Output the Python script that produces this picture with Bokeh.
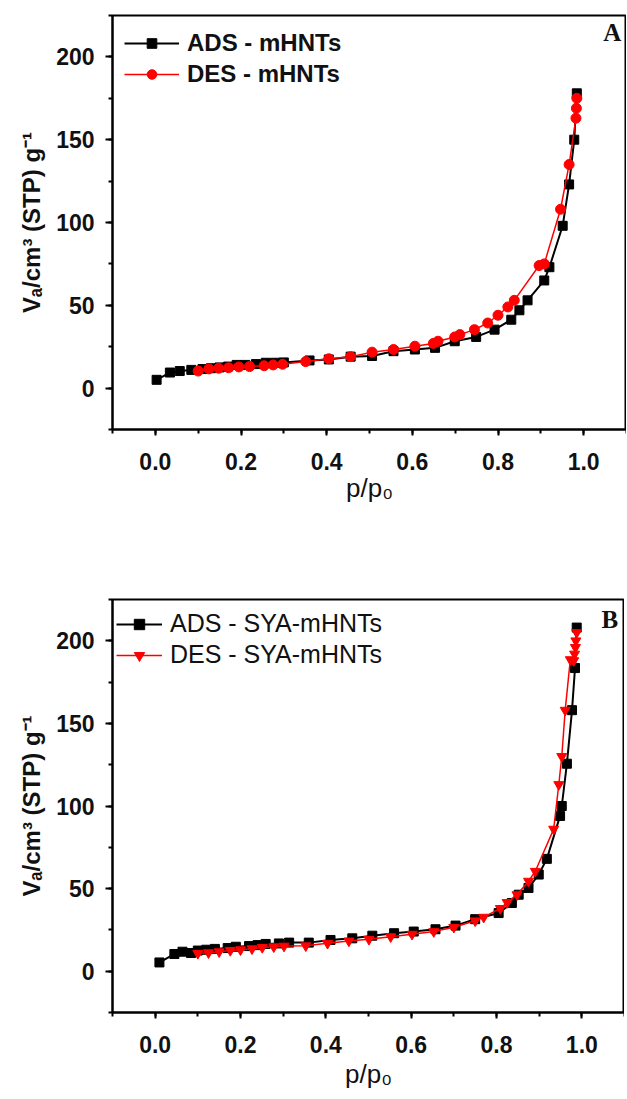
from bokeh.plotting import figure
from bokeh.layouts import column
from bokeh.models import Range1d, SingleIntervalTicker, Legend, LegendItem, Label, PrintfTickFormatter
from bokeh.embed import file_html
from bokeh.resources import INLINE

# ---------------- Panel A data ----------------
a_ads_p = [0.003, 0.034, 0.057, 0.084, 0.11, 0.13, 0.15, 0.17, 0.19, 0.21, 0.235, 0.258, 0.28, 0.30,
           0.36, 0.405, 0.456, 0.506, 0.556, 0.606, 0.653, 0.699, 0.749, 0.792, 0.831, 0.85, 0.869,
           0.908, 0.92, 0.951, 0.966, 0.978, 0.984]
a_ads_v = [5, 9.4, 10.3, 11, 11.5, 12, 12.5, 13, 14, 14, 14.5, 15.3, 15.3, 15.5,
           16.7, 17.3, 19, 19.4, 22.3, 23.3, 24.3, 28.3, 30.9, 35.3, 41.3, 47, 53,
           65, 73, 98, 123, 150, 178]
a_des_p = [0.984, 0.983, 0.982, 0.966, 0.946, 0.908, 0.896, 0.838, 0.823, 0.80, 0.776, 0.745, 0.711,
           0.699, 0.66, 0.649, 0.606, 0.556, 0.506, 0.456, 0.405, 0.351, 0.297, 0.275, 0.254,
           0.22, 0.195, 0.171, 0.148, 0.125, 0.10]
a_des_v = [175, 169, 163, 135, 108, 75, 74, 53, 49, 44, 39.3, 35.3, 32.3,
           30.9, 28.3, 27, 25.3, 23.3, 21.7, 19, 17.7, 16, 14.4, 14, 13.5,
           13, 12.8, 12.3, 12, 11.6, 10.3]

# ---------------- Panel B data ----------------
b_ads_p = [0.01, 0.045, 0.064, 0.084, 0.10, 0.12, 0.14, 0.17, 0.189, 0.22, 0.24, 0.259, 0.29, 0.314,
           0.36, 0.411, 0.462, 0.509, 0.56, 0.606, 0.657, 0.704, 0.75, 0.805, 0.836, 0.852,
           0.875, 0.899, 0.918, 0.949, 0.953, 0.965, 0.977, 0.984, 0.988]
b_ads_v = [5.3, 10.4, 11.8, 11, 12.5, 13, 13.5, 14, 14.8, 15.2, 15.8, 16.5, 16.8, 17.3,
           17.3, 18.9, 19.9, 21.5, 23, 24, 25.4, 27.6, 31.5, 35.2, 41.3, 46.3,
           50.4, 58.5, 68, 94, 100, 125.6, 158, 183.5, 208]
b_des_p = [0.988, 0.986, 0.985, 0.983, 0.981, 0.973, 0.961, 0.953, 0.946, 0.934, 0.891, 0.875,
           0.848, 0.825, 0.809, 0.77, 0.75, 0.70, 0.653, 0.602, 0.552, 0.501, 0.454, 0.404,
           0.353, 0.302, 0.278, 0.251, 0.227, 0.20, 0.176, 0.15, 0.125, 0.10]
b_des_v = [205, 200, 196, 192, 188, 188.6, 158, 130, 113, 86, 60.5, 54.5,
           46.3, 41.6, 38, 32.7, 30.5, 26.6, 24, 22.4, 20.9, 19.3, 18.3, 16.9,
           15.4, 15.2, 14.8, 14.4, 13.6, 13, 12.6, 11.8, 11.2, 10.8]

x_ticks_interval = 0.2
y_ticks_interval = 50

FONT = "Liberation Sans"


def make_panel(ads_p, ads_v, des_p, des_v, labels, letter, width, height,
               mb_left, mb_right, mb_top, mb_bottom, red_marker,
               leg_font, leg_style, glyph_w, glyph_h, leg_spacing, leg_loc,
               letter_x, letter_y, xlabel_standoff):
    p = figure(width=width, height=height, output_backend="svg", toolbar_location=None,
               x_range=Range1d(-0.1, 1.1), y_range=Range1d(-25, 225),
               min_border_left=mb_left, min_border_right=mb_right,
               min_border_top=mb_top, min_border_bottom=mb_bottom)
    p.xgrid.visible = False
    p.ygrid.visible = False
    p.outline_line_color = "black"
    p.outline_line_width = 2
    p.background_fill_color = "white"
    p.border_fill_color = "white"

    p.xaxis.ticker = SingleIntervalTicker(interval=x_ticks_interval, num_minor_ticks=2)
    p.yaxis.ticker = SingleIntervalTicker(interval=y_ticks_interval, num_minor_ticks=2)
    p.xaxis.formatter = PrintfTickFormatter(format="%.1f")
    for ax in (p.xaxis[0], p.yaxis[0]):
        ax.axis_line_width = 2
        ax.axis_line_color = "black"
        ax.major_tick_line_width = 2
        ax.minor_tick_line_width = 2
        ax.major_tick_in = 0
        ax.minor_tick_in = 0
        ax.major_label_text_font = FONT
        ax.major_label_text_font_style = "bold"
        ax.major_label_text_font_size = "23px"
        ax.major_label_text_color = "#111111"
        ax.axis_label_text_font = FONT
        ax.axis_label_text_color = "#111111"
    p.xaxis.major_tick_out = 6
    p.xaxis.minor_tick_out = 4
    p.yaxis.major_tick_out = 7
    p.yaxis.minor_tick_out = 4
    p.xaxis.major_label_standoff = 17
    p.yaxis.major_label_standoff = 11
    p.xaxis.axis_label = "p/p\u2080"
    p.xaxis.axis_label_text_font_style = "normal"
    p.xaxis.axis_label_text_font_size = "26px"
    p.xaxis.axis_label_standoff = xlabel_standoff
    p.yaxis.axis_label = "V\u2090/cm\u00b3 (STP) g\u207b\u00b9"
    p.yaxis.axis_label_text_font_style = "bold"
    p.yaxis.axis_label_text_font_size = "24px"
    p.yaxis.axis_label_standoff = 8

    l1 = p.line(ads_p, ads_v, line_color="black", line_width=2)
    s1 = p.scatter(ads_p, ads_v, marker="square", size=9, fill_color="black", line_color="black")
    l2 = p.line(des_p, des_v, line_color="red", line_width=1.5)
    s2 = p.scatter(des_p, des_v, marker=red_marker, size=10, fill_color="red", line_color="red")

    legend = Legend(items=[LegendItem(label=labels[0], renderers=[l1, s1]),
                           LegendItem(label=labels[1], renderers=[l2, s2])],
                    location=leg_loc)
    legend.border_line_color = None
    legend.background_fill_alpha = 0
    legend.label_text_font = FONT
    legend.label_text_font_size = leg_font
    legend.label_text_font_style = leg_style
    legend.label_text_color = "#111111"
    legend.glyph_width = glyph_w
    legend.glyph_height = glyph_h
    legend.label_height = glyph_h
    legend.spacing = leg_spacing
    legend.padding = 0
    legend.margin = 0
    legend.label_standoff = 8
    p.add_layout(legend)

    p.add_layout(Label(x=letter_x, y=letter_y, text=letter, text_font="Liberation Serif",
                       text_font_style="bold", text_font_size="25px", text_align="right",
                       text_baseline="top", text_color="#111111"))
    return p


pA = make_panel(a_ads_p, a_ads_v, a_des_p, a_des_v, ["ADS - mHNTs", "DES - mHNTs"], "A",
                width=626, height=560, mb_left=109, mb_right=0, mb_top=15, mb_bottom=131,
                red_marker="circle", leg_font="24px", leg_style="bold",
                glyph_w=55, glyph_h=24, leg_spacing=3, leg_loc=(12, 341),
                letter_x=1.088, letter_y=223, xlabel_standoff=0)

pB = make_panel(b_ads_p, b_ads_v, b_des_p, b_des_v, ["ADS - SYA-mHNTs", "DES - SYA-mHNTs"], "B",
                width=624, height=539, mb_left=112, mb_right=0, mb_top=39, mb_bottom=87,
                red_marker="inverted_triangle", leg_font="25px", leg_style="normal",
                glyph_w=46, glyph_h=26, leg_spacing=2, leg_loc=(4, 343),
                letter_x=1.085, letter_y=221.3, xlabel_standoff=3)

layout = column(pA, pB, spacing=0)
open("out.html", "w").write(file_html(layout, INLINE))
